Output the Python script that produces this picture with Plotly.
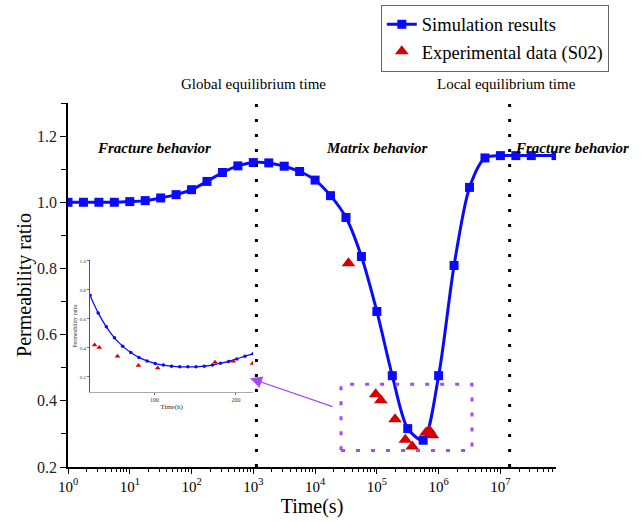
import plotly.graph_objects as go

# ---- main chart data ----
sim_time_s = [1, 1.778, 3.162, 5.623, 10, 17.78, 31.62, 56.23, 100, 177.8, 316.2, 562.3,
              1000, 1778, 3162, 5623, 1e4, 1.778e4, 3.162e4, 5.623e4, 1e5, 1.778e5, 3.162e5,
              5.623e5, 1e6, 1.778e6, 3.162e6, 5.623e6, 1e7, 1.778e7, 3.162e7, 7.943e7]
sim_ratio = [1.000, 1.000, 1.000, 1.000, 1.002, 1.005, 1.013, 1.023, 1.038, 1.063, 1.090, 1.110,
             1.120, 1.119, 1.109, 1.093, 1.067, 1.020, 0.954, 0.836, 0.670, 0.476, 0.316,
             0.281, 0.476, 0.809, 1.045, 1.134, 1.141, 1.141, 1.141, 1.141]

exp_time_s = [34700, 95800, 116000, 197000, 289000, 374000, 627000, 708000, 793000]
exp_ratio = [0.816, 0.420, 0.402, 0.344, 0.282, 0.262, 0.304, 0.310, 0.296]

# ---- inset data (hours) ----
inset_sim_h = [21, 31, 41, 51, 61, 71, 81, 91, 101, 111, 121, 131, 141, 151, 161, 171,
               181, 191, 201, 211, 221]
inset_sim_ratio = [0.763, 0.641, 0.545, 0.469, 0.412, 0.368, 0.334, 0.310, 0.292, 0.281,
                   0.274, 0.269, 0.269, 0.269, 0.274, 0.281, 0.294, 0.306, 0.324, 0.343, 0.359]
inset_exp_h = [26.6, 32.3, 54.7, 80.4, 104, 174.3, 196.7, 220.4]
inset_exp_ratio = [0.419, 0.403, 0.343, 0.279, 0.262, 0.301, 0.308, 0.292]

x_tick_vals = [1, 10, 100, 1000, 1e4, 1e5, 1e6, 1e7]
x_tick_text = ["10<sup>0</sup>", "10<sup>1</sup>", "10<sup>2</sup>", "10<sup>3</sup>",
               "10<sup>4</sup>", "10<sup>5</sup>", "10<sup>6</sup>", "10<sup>7</sup>"]
x_minor_vals = [m * 10 ** e for e in range(0, 8) for m in range(2, 10)]

global_eq_s = 1122
local_eq_s = 1.41e7
box_x = [26300, 3.47e6]
box_y = [0.25, 0.45]

SERIF = "Liberation Serif, Times New Roman, serif"
BLUE = "#0A0AFF"
RED = "#D40000"
PURPLE = "#A64BF4"

fig = go.Figure()
fig.add_trace(go.Scatter(x=sim_time_s, y=sim_ratio, mode="lines+markers",
                         name="Simulation results",
                         line=dict(color=BLUE, width=3, shape="spline", smoothing=0.8),
                         marker=dict(symbol="square", size=9, color=BLUE)))
fig.add_trace(go.Scatter(x=exp_time_s, y=exp_ratio, mode="markers",
                         name="Experimental data (S02)",
                         marker=dict(symbol="triangle-up", size=12, color=RED)))

# inset
fig.add_trace(go.Scatter(x=inset_sim_h, y=inset_sim_ratio, mode="lines+markers",
                         xaxis="x2", yaxis="y2", showlegend=False,
                         line=dict(color=BLUE, width=1.3, shape="spline"),
                         marker=dict(symbol="circle", size=3.5, color=BLUE)))
fig.add_trace(go.Scatter(x=inset_exp_h, y=inset_exp_ratio, mode="markers",
                         xaxis="x2", yaxis="y2", showlegend=False,
                         marker=dict(symbol="triangle-up", size=5, color=RED)))

# dotted equilibrium lines
for xv in [global_eq_s, local_eq_s]:
    fig.add_shape(type="line", xref="x", yref="paper", x0=xv, x1=xv, y0=0, y1=1.027,
                  line=dict(color="black", width=3, dash="3px,12px"))

# purple dotted box
fig.add_shape(type="rect", xref="x", yref="y", x0=box_x[0], x1=box_x[1],
              y0=box_y[0], y1=box_y[1],
              line=dict(color=PURPLE, width=3, dash="4px,11px"))

ann_font = dict(family=SERIF, size=15, color="black")
annotations = [
    dict(text="Global equilibrium time", x=0.381, y=1.052, xref="paper", yref="paper",
         showarrow=False, font=ann_font, xanchor="center", yanchor="middle"),
    dict(text="Local equilibrium time", x=0.8995, y=1.052, xref="paper", yref="paper",
         showarrow=False, font=ann_font, xanchor="center", yanchor="middle"),
    dict(text="<b><i>Fracture behavior</i></b>", x=0.176, y=0.876, xref="paper", yref="paper",
         showarrow=False, font=ann_font, xanchor="center", yanchor="middle"),
    dict(text="<b><i>Matrix behavior</i></b>", x=0.634, y=0.876, xref="paper", yref="paper",
         showarrow=False, font=ann_font, xanchor="center", yanchor="middle"),
    dict(text="<b><i>Fracture behavior</i></b>", x=0.912, y=0.876, xref="paper", yref="paper",
         showarrow=False, font=ann_font, xanchor="left", yanchor="middle"),
    dict(text="", x=0.373, y=0.244, xref="paper", yref="paper", showarrow=True,
         ax=84, ay=29, axref="pixel", ayref="pixel", arrowcolor=PURPLE,
         arrowhead=2, arrowsize=2, arrowwidth=1.2),
]

fig.update_layout(
    width=641, height=521,
    margin=dict(l=68, r=85, t=103, b=54, autoexpand=False),
    paper_bgcolor="white", plot_bgcolor="white",
    font=dict(family=SERIF, color="black"),
    showlegend=True,
    legend=dict(x=0.641, y=1.27, xanchor="left", yanchor="top",
                font=dict(family=SERIF, size=18.5, color="black"),
                bordercolor="#666666", borderwidth=1, bgcolor="white",
                tracegroupgap=0, itemwidth=30),
    annotations=annotations,
    xaxis=dict(type="log", range=[0, 7.9], showgrid=False, zeroline=False,
               showline=True, linecolor="black", linewidth=1.5, automargin=False,
               ticks="outside", ticklen=5, tickwidth=1.2, tickcolor="black",
               tickmode="array", tickvals=x_tick_vals, ticktext=x_tick_text,
               tickfont=dict(family=SERIF, size=15, color="black"),
               minor=dict(tickmode="array", tickvals=x_minor_vals, ticks="outside",
                          ticklen=3, tickwidth=1, tickcolor="black"),
               title=dict(text="Time(s)", font=dict(family=SERIF, size=20, color="black"),
                          standoff=5)),
    yaxis=dict(range=[0.2, 1.3], showgrid=False, zeroline=False, automargin=False,
               showline=True, linecolor="black", linewidth=1.5,
               ticks="outside", ticklen=6, tickwidth=1.2, tickcolor="black",
               tick0=0.2, dtick=0.2, tickformat=".1f",
               tickfont=dict(family=SERIF, size=16, color="#222222"),
               minor=dict(dtick=0.1, tick0=0.2, ticks="outside", ticklen=5, tickwidth=1,
                          tickcolor="black"),
               title=dict(text="Permeability ratio", font=dict(family=SERIF, size=20, color="black"),
                          standoff=0)),
    xaxis2=dict(domain=[0.0451, 0.3793], anchor="y2", range=[21, 221], showgrid=False,
                zeroline=False, showline=True, linecolor="#aaaaaa", linewidth=0.8,
                ticks="outside", ticklen=2, tickcolor="#666666", tickvals=[100, 200],
                tickfont=dict(family=SERIF, size=6, color="#333333"),
                title=dict(text="Time(h)", font=dict(family=SERIF, size=7, color="#333333"),
                           standoff=1)),
    yaxis2=dict(domain=[0.2054, 0.5683], anchor="x2", range=[0.094, 1.005], showgrid=False,
                zeroline=False, showline=True, linecolor="#555555", linewidth=0.8,
                ticks="outside", ticklen=2, tickcolor="#666666",
                tickvals=[0.2, 0.4, 0.6, 0.8, 1.0], tickformat=".1f",
                tickfont=dict(family=SERIF, size=5, color="#333333"),
                title=dict(text="Permeability ratio", font=dict(family=SERIF, size=6, color="#333333"),
                           standoff=1)),
)

fig.write_html("out.html")
